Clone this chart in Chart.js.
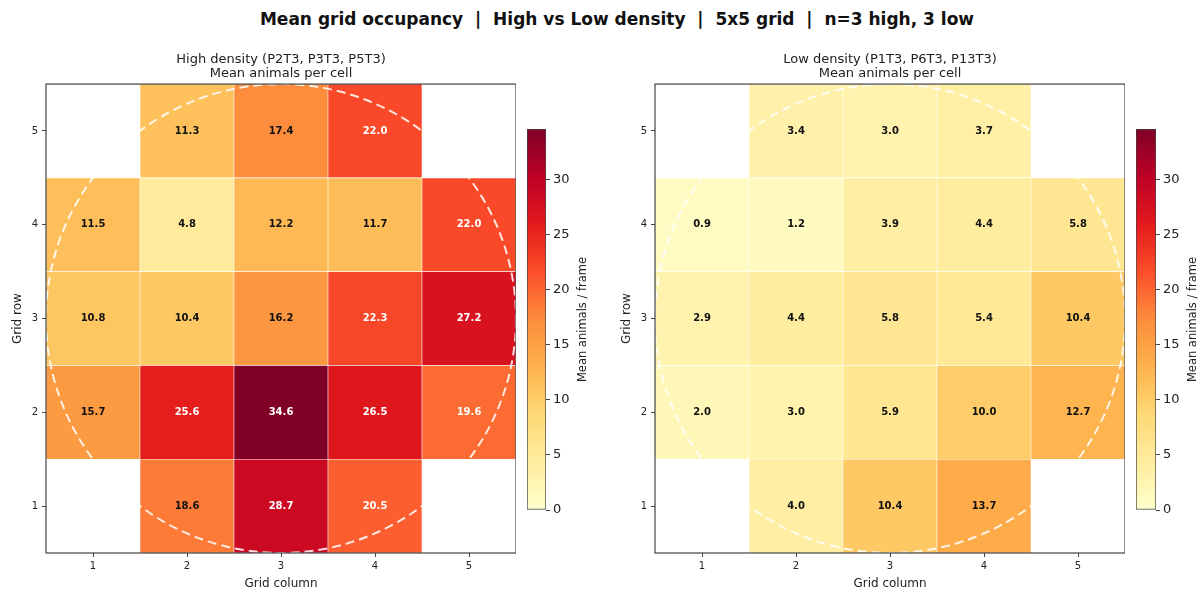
<!DOCTYPE html>
<html>
<head>
<meta charset="utf-8">
<script src="https://cdn.jsdelivr.net/npm/chart.js@4.4.1/dist/chart.umd.min.js"></script>
<style>
  html, body { margin: 0; padding: 0; background: #fff; }
  #wrap { position: relative; width: 1198px; height: 592px; overflow: hidden; font-family: "DejaVu Sans", sans-serif; }
  #suptitle { position: absolute; left: 0; width: 1234px; top: 9px; text-align: center; font-weight: bold; font-size: 17px; white-space: pre; color: #111; }
  canvas { position: absolute; top: 0; }
</style>
</head>
<body>
<div id="wrap">
  <div id="suptitle">Mean grid occupancy  |  High vs Low density  |  5x5 grid  |  n=3 high, 3 low</div>
  <canvas id="hiMap" style="left:0px" width="516" height="592"></canvas>
  <canvas id="hiBar" style="left:520px" width="80" height="592"></canvas>
  <canvas id="loMap" style="left:609px" width="516" height="592"></canvas>
  <canvas id="loBar" style="left:1129px" width="69" height="592"></canvas>
</div>
<script>
// Grid axes
const colLabels = ['1', '2', '3', '4', '5'];
const rowLabels = ['1', '2', '3', '4', '5'];

// Mean animals per cell, rows listed from row 5 (top) down to row 1.
// null = cell lies outside the circular arena.
const highRows = [
  [null, 11.3, 17.4, 22.0, null],
  [11.5,  4.8, 12.2, 11.7, 22.0],
  [10.8, 10.4, 16.2, 22.3, 27.2],
  [15.7, 25.6, 34.6, 26.5, 19.6],
  [null, 18.6, 28.7, 20.5, null]
];
const lowRows = [
  [null,  3.4,  3.0,  3.7, null],
  [ 0.9,  1.2,  3.9,  4.4,  5.8],
  [ 2.9,  4.4,  5.8,  5.4, 10.4],
  [ 2.0,  3.0,  5.9, 10.0, 12.7],
  [null,  4.0, 10.4, 13.7, null]
];

// Colorbar ticks
const cbTicks = [0, 5, 10, 15, 20, 25, 30];

// Arena outline (grid units)
const arenaCenter = [3, 3];
const arenaRadius = 2.5;

// Shared colour scale: 0 .. largest cell mean
const allValues = highRows.concat(lowRows).flat().filter(v => v !== null);
const vmax = Math.max(...allValues);

// YlOrRd sequential palette
const YLORRD = ['#ffffcc', '#ffeda0', '#fed976', '#feb24c', '#fd8d3c', '#fc4e2a', '#e31a1c', '#bd0026', '#800026'];
const YLORRD_RGB = YLORRD.map(h => [1, 3, 5].map(i => parseInt(h.substr(i, 2), 16)));
function cmap(v) {
  const t = Math.min(1, Math.max(0, v / vmax)) * (YLORRD.length - 1);
  const i = Math.min(YLORRD.length - 2, Math.floor(t));
  const f = t - i;
  const a = YLORRD_RGB[i], b = YLORRD_RGB[i + 1];
  const c = a.map((x, k) => Math.round(x + (b[k] - x) * f));
  return `rgb(${c[0]},${c[1]},${c[2]})`;
}

const FONT = '"DejaVu Sans", sans-serif';
const AXIS_COLOR = '#444';
const TEXT_COLOR = '#222';

// Dashed arena circle, frame and per-cell value labels
const heatOverlay = {
  id: 'heatOverlay',
  afterDatasetsDraw(chart) {
    const { ctx, chartArea: a, scales: { x, y } } = chart;
    ctx.save();
    ctx.beginPath();
    ctx.rect(a.left, a.top, a.right - a.left, a.bottom - a.top);
    ctx.clip();
    const cx = x.getPixelForValue(arenaCenter[0]);
    const cy = y.getPixelForValue(arenaCenter[1]);
    const rx = Math.abs(x.getPixelForValue(arenaCenter[0] + arenaRadius) - cx);
    const ry = Math.abs(y.getPixelForValue(arenaCenter[1] + arenaRadius) - cy);
    ctx.setLineDash([9, 5]);
    ctx.lineWidth = 2;
    ctx.strokeStyle = 'rgba(255,255,255,0.85)';
    ctx.beginPath();
    ctx.ellipse(cx, cy, rx, ry, 0, 0, Math.PI * 2);
    ctx.stroke();
    ctx.restore();

    ctx.save();
    ctx.font = `bold 10px ${FONT}`;
    ctx.textAlign = 'center';
    ctx.textBaseline = 'middle';
    chart.data.datasets[0].data.forEach(p => {
      const px = x.getPixelForValue(p.x);
      const py = y.getPixelForValue((p.y[0] + p.y[1]) / 2);
      ctx.fillStyle = p.v > 0.55 * vmax ? '#ffffff' : '#111111';
      ctx.fillText(p.v.toFixed(1), px, py);
    });
    ctx.restore();
  },
  afterDraw(chart) {
    const { ctx, chartArea: a } = chart;
    ctx.save();
    ctx.strokeStyle = AXIS_COLOR;
    ctx.lineWidth = 1.2;
    ctx.strokeRect(a.left, a.top, a.right - a.left, a.bottom - a.top);
    ctx.restore();
  }
};

function heatmap(id, rows, titleLines) {
  const points = [];
  rows.forEach((row, ri) => {
    const r = rowLabels.length - ri;
    row.forEach((v, ci) => {
      if (v === null) return;
      points.push({ x: ci + 1, y: [r - 0.5, r + 0.5], v });
    });
  });
  const gridTicks = s => { s.ticks = colLabels.map((_, i) => ({ value: i + 1 })); };
  new Chart(document.getElementById(id), {
    type: 'bar',
    data: {
      datasets: [{
        data: points,
        backgroundColor: points.map(p => cmap(p.v)),
        borderColor: 'rgba(255,255,255,0.9)',
        borderWidth: 0.6,
        borderSkipped: false,
        barPercentage: 1,
        categoryPercentage: 1
      }]
    },
    options: {
      responsive: false,
      animation: false,
      layout: { padding: { top: 53, left: 0, right: 0, bottom: 0 } },
      plugins: {
        legend: { display: false },
        tooltip: { enabled: false },
        title: {
          display: true,
          text: titleLines,
          fullSize: false,
          color: TEXT_COLOR,
          font: { family: FONT, size: 13, weight: 'normal', lineHeight: 1.08 },
          padding: { top: 0, bottom: 3 }
        }
      },
      scales: {
        x: {
          type: 'linear', min: 0.5, max: 5.5, offset: false,
          afterBuildTicks: gridTicks,
          afterFit: s => { s.height = 39; },
          grid: { display: true, drawOnChartArea: false, offset: false, tickLength: 4, color: AXIS_COLOR },
          border: { display: false },
          ticks: { color: TEXT_COLOR, font: { family: FONT, size: 10 }, padding: 3, callback: v => colLabels[v - 1] },
          title: { display: true, text: 'Grid column', color: TEXT_COLOR, font: { family: FONT, size: 12 }, padding: { top: 0, bottom: 1 } }
        },
        y: {
          type: 'linear', min: 0.5, max: 5.5,
          afterBuildTicks: s => { s.ticks = rowLabels.map((_, i) => ({ value: i + 1 })); },
          afterFit: s => { s.width = 46; },
          grid: { display: true, drawOnChartArea: false, tickLength: 4, color: AXIS_COLOR },
          border: { display: false },
          ticks: { color: TEXT_COLOR, font: { family: FONT, size: 10 }, padding: 4, callback: v => rowLabels[v - 1] },
          title: { display: true, text: 'Grid row', color: TEXT_COLOR, font: { family: FONT, size: 12 }, padding: { top: 11, bottom: 0 } }
        }
      }
    },
    plugins: [heatOverlay]
  });
}

// Vertical label beside each colorbar
const cbLabel = {
  id: 'cbLabel',
  afterDraw(chart) {
    const { ctx, chartArea: a } = chart;
    ctx.save();
    ctx.translate(a.right + 37, (a.top + a.bottom) / 2);
    ctx.rotate(-Math.PI / 2);
    ctx.font = `11.5px ${FONT}`;
    ctx.fillStyle = TEXT_COLOR;
    ctx.textAlign = 'center';
    ctx.textBaseline = 'middle';
    ctx.fillText('Mean animals / frame', 0, 0);
    ctx.restore();
  }
};

function colorbar(id, axisWidth) {
  new Chart(document.getElementById(id), {
    type: 'bar',
    data: {
      labels: [''],
      datasets: [{
        data: [vmax],
        backgroundColor: c => {
          const ch = c.chart;
          if (!ch.chartArea) return YLORRD[0];
          const ys = ch.scales.y;
          const g = ch.ctx.createLinearGradient(0, ys.getPixelForValue(0), 0, ys.getPixelForValue(vmax));
          YLORRD.forEach((col, i) => g.addColorStop(i / (YLORRD.length - 1), col));
          return g;
        },
        borderColor: AXIS_COLOR,
        borderWidth: 1,
        borderSkipped: false,
        barPercentage: 1,
        categoryPercentage: 1
      }]
    },
    options: {
      responsive: false,
      animation: false,
      layout: { padding: { left: 7, top: 129, bottom: 82, right: 0 } },
      plugins: { legend: { display: false }, tooltip: { enabled: false }, title: { display: false } },
      scales: {
        x: { display: false },
        y: {
          position: 'right', min: 0, max: vmax,
          afterBuildTicks: s => { s.ticks = cbTicks.map(v => ({ value: v })); },
          afterFit: s => { s.width = axisWidth; },
          grid: { display: true, drawOnChartArea: false, tickLength: 4, color: AXIS_COLOR },
          border: { display: false },
          ticks: { color: TEXT_COLOR, font: { family: FONT, size: 13 }, padding: 3 }
        }
      }
    },
    plugins: [cbLabel]
  });
}

heatmap('hiMap', highRows, ['High density (P2T3, P3T3, P5T3)', 'Mean animals per cell']);
heatmap('loMap', lowRows, ['Low density (P1T3, P6T3, P13T3)', 'Mean animals per cell']);
colorbar('hiBar', 54);
colorbar('loBar', 42);
</script>
</body>
</html>
